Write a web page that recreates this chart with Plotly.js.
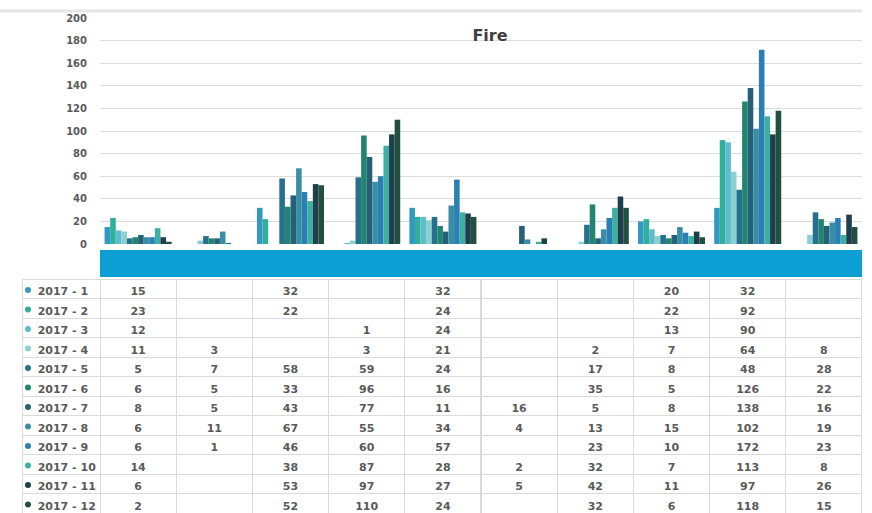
<!DOCTYPE html>
<html>
<head>
<meta charset="utf-8">
<script src="https://cdn.plot.ly/plotly-3.0.1.min.js"></script>
<style>html,body{margin:0;padding:0;background:#fff;}#chart{width:872px;height:513px;}</style>
</head>
<body>
<div id="chart"></div>
<script>
const categories = ["c1","c2","c3","c4","c5","c6","c7","c8","c9","c10"];
const seriesNames = ["2017 - 1","2017 - 2","2017 - 3","2017 - 4","2017 - 5","2017 - 6","2017 - 7","2017 - 8","2017 - 9","2017 - 10","2017 - 11","2017 - 12"];
const s1  = [15, null, 32, null, 32, null, null, 20, 32, null];
const s2  = [23, null, 22, null, 24, null, null, 22, 92, null];
const s3  = [12, null, null, 1, 24, null, null, 13, 90, null];
const s4  = [11, 3, null, 3, 21, null, 2, 7, 64, 8];
const s5  = [5, 7, 58, 59, 24, null, 17, 8, 48, 28];
const s6  = [6, 5, 33, 96, 16, null, 35, 5, 126, 22];
const s7  = [8, 5, 43, 77, 11, 16, 5, 8, 138, 16];
const s8  = [6, 11, 67, 55, 34, 4, 13, 15, 102, 19];
const s9  = [6, 1, 46, 60, 57, null, 23, 10, 172, 23];
const s10 = [14, null, 38, 87, 28, 2, 32, 7, 113, 8];
const s11 = [6, null, 53, 97, 27, 5, 42, 11, 97, 26];
const s12 = [2, null, 52, 110, 24, null, 32, 6, 118, 15];
const seriesValues = [s1,s2,s3,s4,s5,s6,s7,s8,s9,s10,s11,s12];
const yTickVals = [0,20,40,60,80,100,120,140,160,180,200];
const colors = ["#3399c2","#2eb09a","#5fbccc","#8ad0d0","#26708f","#22856f","#265f78","#3a8ea3","#2b7fb5","#3bb0a3","#203f4b","#21503f"];

const W = 872, H = 513;
const plotLeft = 100, plotRight = 862;
const tableTop = 279, rowH = 19.5;
const tableHeaderPad = 16;
const fontFam = 'DejaVu Sans, sans-serif';

const traces = seriesValues.map((vals, i) => ({
  type: 'bar',
  x: categories,
  y: vals,
  name: seriesNames[i],
  marker: {color: colors[i]},
  showlegend: false,
  hoverinfo: 'none'
}));

// legend markers (drawn below the transparent table cells)
const rowsVisible = (H - tableTop) / rowH;
traces.push({
  type: 'scatter', mode: 'markers',
  x: seriesNames.map(() => 0),
  y: seriesNames.map((n, i) => i + 0.56),
  xaxis: 'x2', yaxis: 'y2',
  marker: {color: colors, size: 6, symbol: 'circle'},
  showlegend: false, hoverinfo: 'none'
});

const NB = '\u00a0';
const legendCol = seriesNames.map(n => NB + NB + n.split(' ').join(NB));
const tableCols = [legendCol].concat(categories.map((c, j) =>
  seriesValues.map(s => (s[j] === null || s[j] === undefined) ? '' : String(s[j]))));

traces.push({
  type: 'table',
  domain: {x: [22 / W, plotRight / W], y: [0, (H - tableTop + tableHeaderPad) / H]},
  columnwidth: [78].concat(categories.map(() => 76.2)),
  header: {values: [], height: 0, line: {width: 0}, fill: {color: 'rgba(0,0,0,0)'}},
  cells: {
    values: tableCols,
    height: rowH,
    align: ['left'].concat(categories.map(() => 'center')),
    font: {family: fontFam, size: 11, color: '#5a5a5a', weight: 'bold'},
    line: {color: '#dadada', width: 1},
    fill: {color: 'rgba(255,255,255,0)'}
  }
});

const layout = {
  width: W, height: H,
  margin: {l: 0, r: 0, t: 0, b: 0},
  paper_bgcolor: '#ffffff',
  plot_bgcolor: 'rgba(0,0,0,0)',
  barmode: 'group',
  bargap: 0.12,
  bargroupgap: 0,
  title: {text: '<b>Fire</b>', x: 490 / W, xanchor: 'center', y: 1 - 35 / H, yanchor: 'middle',
          font: {family: fontFam, size: 16, color: '#404040'}},
  xaxis: {domain: [plotLeft / W, plotRight / W], showticklabels: false, showgrid: false,
          zeroline: false, showline: false, ticks: '', fixedrange: true},
  yaxis: {domain: [(H - 244) / H, (H - 18) / H], range: [0, 200], tickvals: yTickVals,
          showgrid: true, gridcolor: '#dcdcdc', gridwidth: 1, zeroline: false, showline: false,
          ticks: '', ticklabelstandoff: 12,
          tickfont: {family: fontFam, size: 10, color: '#5a5a5a', weight: 'bold'}},
  xaxis2: {domain: [23 / W, 33 / W], range: [-1, 1], visible: false, fixedrange: true},
  yaxis2: {domain: [0, (H - tableTop) / H], range: [rowsVisible, 0], visible: false, fixedrange: true},
  shapes: [
    {type: 'rect', xref: 'paper', yref: 'paper', x0: plotLeft / W, x1: plotRight / W,
     y0: (H - 277) / H, y1: (H - 250) / H, fillcolor: '#0c9fd3', line: {width: 0}},
    {type: 'line', xref: 'paper', yref: 'paper', x0: 0, x1: plotRight / W,
     y0: (H - 11) / H, y1: (H - 11) / H, line: {color: '#e6e6e6', width: 3}}
  ]
};

Plotly.newPlot('chart', traces, layout, {displayModeBar: false, staticPlot: true});
</script>
</body>
</html>
